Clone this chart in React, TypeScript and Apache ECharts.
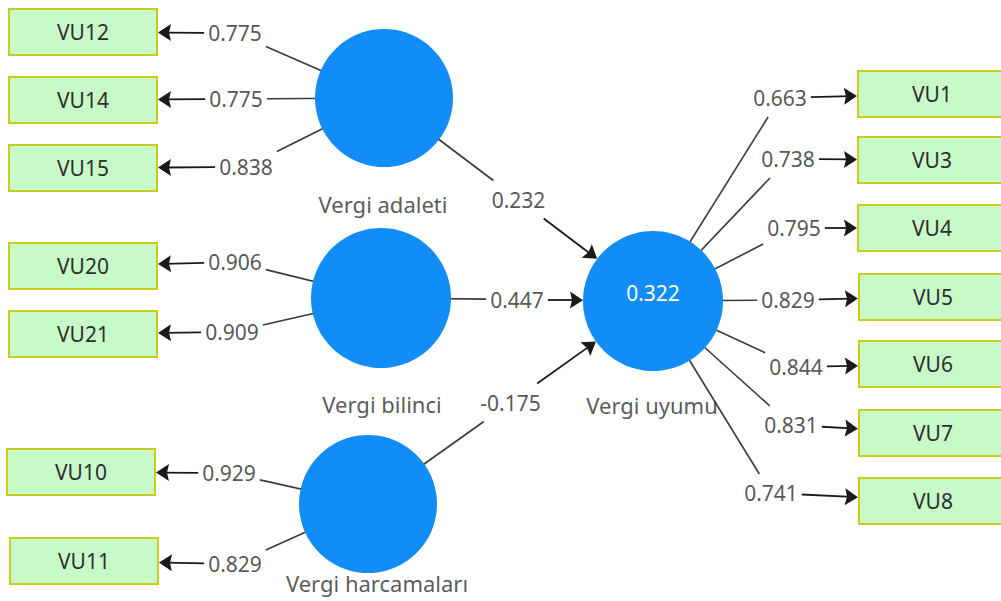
import React, { useEffect, useRef } from "react";
import * as echarts from "echarts";

// ---- data ----
const latentNames = ["Vergi adaleti", "Vergi bilinci", "Vergi harcamaları", "Vergi uyumu"];
const rSquared: (number | null)[] = [null, null, null, 0.322];
const indicatorNames = ["VU12", "VU14", "VU15", "VU20", "VU21", "VU10", "VU11", "VU1", "VU3", "VU4", "VU5", "VU6", "VU7", "VU8"];
const indicatorLatent = [0, 0, 0, 1, 1, 2, 2, 3, 3, 3, 3, 3, 3, 3];
const outerLoadings = [0.775, 0.775, 0.838, 0.906, 0.909, 0.929, 0.829, 0.663, 0.738, 0.795, 0.829, 0.844, 0.831, 0.741];
const pathFrom = [0, 1, 2];
const pathTo = [3, 3, 3];
const pathCoefficients = [0.232, 0.447, -0.175];

// ---- layout (diagram positions, pixels) ----
const latentPos = [[384, 98], [381, 298], [368, 504], [653, 301]];
const latentRadius = [69, 70, 69, 70];
const latentNamePos = [[383, 204], [382, 404], [377, 583], [652, 405]];
const indicatorPos = [[83, 32], [83, 100], [83, 168], [83, 266], [83, 334], [81, 472], [84, 561], [932, 94], [932, 160], [932, 228], [933, 297], [933, 364], [933, 433], [933, 501]];
const loadingLabelPos = [[235, 33], [236, 99], [246, 167], [235, 262], [232, 332], [229, 473], [235, 564], [780, 98], [788, 159], [794, 228], [788, 300], [796, 367], [791, 425], [771, 493]];

const W = 1001;
const H = 601;
const BOX_W = 150;
const BOX_H = 48;
const ARROW_LEN = 13;
const ARROW_WID = 17;
const LABEL_HH = 19;
const FONT = "'Noto Sans', 'DejaVu Sans', sans-serif";
const ARROW_PATH = "path://M5,0 L10,13 L5,11 L0,13 Z";

function textHalfWidth(s: string) {
  let w = 0;
  for (const ch of s) w += ch === "." ? 5.7 : ch === "-" ? 7 : 12;
  return w / 2 + 4;
}

// point where the ray from the label centre towards (tx,ty) leaves the label box
function exitPoint(lx: number, ly: number, tx: number, ty: number, hw: number) {
  const dx = tx - lx;
  const dy = ty - ly;
  const len = Math.hypot(dx, dy);
  const ux = dx / len;
  const uy = dy / len;
  const t = Math.min(Math.abs(ux) > 1e-6 ? hw / Math.abs(ux) : 1e9, Math.abs(uy) > 1e-6 ? LABEL_HH / Math.abs(uy) : 1e9);
  return [lx + ux * t, ly + uy * t];
}

function App() {
  const ref = useRef<HTMLDivElement>(null);
  useEffect(() => {
    if (!ref.current) return;
    const chart = echarts.init(ref.current, null, { renderer: "svg" });

    const plainLines: any[] = [];
    const arrowLines: any[] = [];
    const valueLabels: any[] = [];

    // structural paths
    pathFrom.forEach((f, i) => {
      const t = pathTo[i];
      const [x1, y1] = latentPos[f];
      const [x2, y2] = latentPos[t];
      const mx = (x1 + x2) / 2;
      const my = (y1 + y2) / 2;
      const text = pathCoefficients[i].toFixed(3);
      const hw = textHalfWidth(text);
      const dx = x2 - x1;
      const dy = y2 - y1;
      const len = Math.hypot(dx, dy);
      const ux = dx / len;
      const uy = dy / len;
      const back = latentRadius[t] + ARROW_LEN / 2;
      plainLines.push({ coords: [[x1, y1], exitPoint(mx, my, x1, y1, hw)] });
      arrowLines.push({ coords: [exitPoint(mx, my, x2, y2, hw), [x2 - ux * back, y2 - uy * back]] });
      valueLabels.push({ value: [mx, my], text });
    });

    // outer loadings
    indicatorNames.forEach((_, i) => {
      const l = indicatorLatent[i];
      const [cx, cy] = latentPos[l];
      const [lx, ly] = loadingLabelPos[i];
      const [bx, by] = indicatorPos[i];
      const text = outerLoadings[i].toFixed(3);
      const hw = textHalfWidth(text);
      plainLines.push({ coords: [[cx, cy], exitPoint(lx, ly, cx, cy, hw)] });
      const edgeX = bx < lx ? bx + BOX_W / 2 : bx - BOX_W / 2;
      const t = (edgeX - lx) / (bx - lx);
      const ex = edgeX;
      const ey = ly + (by - ly) * t;
      const dx = ex - lx;
      const dy = ey - ly;
      const len = Math.hypot(dx, dy);
      const ux = dx / len;
      const uy = dy / len;
      arrowLines.push({ coords: [exitPoint(lx, ly, ex, ey, hw), [ex - ux * ARROW_LEN / 2, ey - uy * ARROW_LEN / 2]] });
      valueLabels.push({ value: [lx, ly], text });
    });

    const option: any = {
      animation: false,
      backgroundColor: "#ffffff",
      grid: { left: 0, right: 0, top: 0, bottom: 0 },
      xAxis: { type: "value", min: 0, max: W, show: false },
      yAxis: { type: "value", min: 0, max: H, inverse: true, show: false },
      series: [
        {
          type: "lines",
          coordinateSystem: "cartesian2d",
          silent: true,
          z: 1,
          symbol: ["none", "none"],
          lineStyle: { color: "#3a3a3a", width: 1.6, opacity: 1 },
          data: plainLines,
        },
        {
          type: "lines",
          coordinateSystem: "cartesian2d",
          silent: true,
          z: 2,
          symbol: ["none", ARROW_PATH],
          symbolSize: [1, [ARROW_WID, ARROW_LEN]],
          lineStyle: { color: "#1a1a1a", width: 1.8, opacity: 1 },
          data: arrowLines,
        },
        {
          type: "scatter",
          silent: true,
          z: 3,
          clip: false,
          symbol: "circle",
          itemStyle: { color: "#128DF8", opacity: 1 },
          emphasis: { disabled: true },
          data: latentNames.map((n, i) => ({
            value: latentPos[i],
            symbolSize: latentRadius[i] * 2,
            r2: rSquared[i],
          })),
          label: {
            show: true,
            position: "inside",
            offset: [0, -8],
            color: "#ffffff",
            fontSize: 21,
            fontFamily: FONT,
            formatter: (p: any) => (p.data.r2 == null ? "" : p.data.r2.toFixed(3)),
          },
        },
        {
          type: "custom",
          silent: true,
          z: 3,
          clip: false,
          data: indicatorNames.map((n, i) => ({ value: indicatorPos[i], name: n })),
          renderItem: (params: any, api: any) => {
            const c = api.coord([api.value(0), api.value(1)]);
            return {
              type: "rect",
              shape: { x: c[0] - BOX_W / 2 + 1, y: c[1] - BOX_H / 2 + 1, width: BOX_W - 2, height: BOX_H - 2 },
              style: { fill: "#C8FAC8", stroke: "#CBCB1E", lineWidth: 2 },
              textContent: {
                style: {
                  text: indicatorNames[params.dataIndex],
                  fill: "#2e2e2e",
                  fontSize: 21,
                  fontFamily: FONT,
                },
              },
              textConfig: { position: "inside" },
            };
          },
        },
        {
          type: "scatter",
          silent: true,
          z: 5,
          clip: false,
          symbolSize: 1,
          itemStyle: { color: "rgba(0,0,0,0)" },
          emphasis: { disabled: true },
          data: latentNames.map((n, i) => ({ value: latentNamePos[i], name: n })),
          label: {
            show: true,
            position: "inside",
            color: "#2e2e2e",
            fontSize: 22,
            fontFamily: FONT,
            formatter: (p: any) => p.name,
          },
        },
        {
          type: "scatter",
          silent: true,
          z: 6,
          clip: false,
          symbolSize: 1,
          itemStyle: { color: "rgba(0,0,0,0)" },
          emphasis: { disabled: true },
          data: valueLabels,
          label: {
            show: true,
            position: "inside",
            color: "#2a2a2a",
            fontSize: 21,
            fontFamily: FONT,
            formatter: (p: any) => p.data.text,
          },
        },
      ],
    };
    chart.setOption(option);
    return () => chart.dispose();
  }, []);
  return (
    <div
      ref={ref}
      style={{ position: "fixed", left: 0, top: 0, width: W, height: H, background: "#fff" }}
    />
  );
}

export default App;
